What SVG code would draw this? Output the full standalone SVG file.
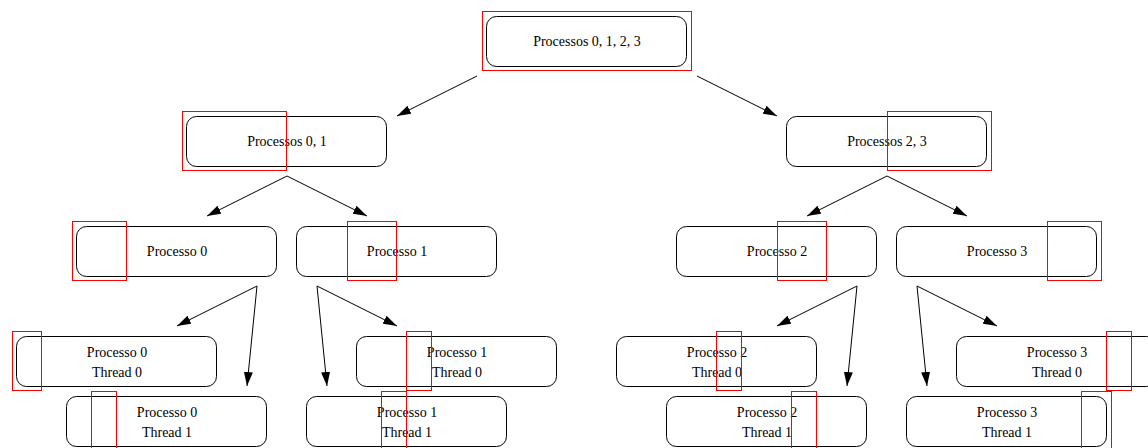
<svg xmlns="http://www.w3.org/2000/svg" width="1148" height="448" viewBox="0 0 1148 448">
  <defs>
    <marker id="arrow" markerUnits="userSpaceOnUse" markerWidth="14" markerHeight="9" refX="14" refY="4.5" orient="auto">
      <path d="M0,0 L14,4.5 L0,9 z" fill="#000"/>
    </marker>
  </defs>
  <style>
    .box { fill: #fff; stroke: #000; stroke-width: 1; }
    .mark { fill: none; stroke: #f00; stroke-width: 1; }
    .lbl { font-family: "Liberation Serif", "Times New Roman", serif; font-size: 14px; fill: #000; text-anchor: middle; }
    .edge { stroke: #000; stroke-width: 1; fill: none; marker-end: url(#arrow); }
  </style>
  <rect width="1148" height="448" fill="#fff"/>

  <!-- connectors -->
  <g id="connectors">
    <line class="edge" x1="477" y1="76" x2="397" y2="116"/>
    <line class="edge" x1="697" y1="76" x2="777" y2="116"/>
    <line class="edge" x1="287" y1="176" x2="207" y2="216"/>
    <line class="edge" x1="287" y1="176" x2="367" y2="216"/>
    <line class="edge" x1="887" y1="176" x2="807" y2="216"/>
    <line class="edge" x1="887" y1="176" x2="967" y2="216"/>
    <line class="edge" x1="257" y1="286" x2="177" y2="326"/>
    <line class="edge" x1="257" y1="286" x2="247" y2="386"/>
    <line class="edge" x1="317" y1="286" x2="397" y2="326"/>
    <line class="edge" x1="317" y1="286" x2="327" y2="386"/>
    <line class="edge" x1="857" y1="286" x2="777" y2="326"/>
    <line class="edge" x1="857" y1="286" x2="847" y2="386"/>
    <line class="edge" x1="917" y1="286" x2="997" y2="326"/>
    <line class="edge" x1="917" y1="286" x2="927" y2="386"/>
  </g>

  <!-- level 0 -->
  <g id="p0123">
    <rect class="box" x="486.5" y="16.5" width="200" height="50" rx="10"/>
    <text class="lbl" x="587" y="46">Processos 0, 1, 2, 3</text>
    <rect class="mark" x="482.5" y="11.5" width="209" height="59"/>
  </g>

  <!-- level 1 -->
  <g id="p01">
    <rect class="box" x="186.5" y="116.5" width="200" height="50" rx="10"/>
    <text class="lbl" x="287" y="146">Processos 0, 1</text>
    <rect class="mark" x="182.5" y="111.5" width="104" height="59"/>
  </g>
  <g id="p23">
    <rect class="box" x="786.5" y="116.5" width="200" height="50" rx="10"/>
    <text class="lbl" x="887" y="146">Processos 2, 3</text>
    <rect class="mark" x="887.5" y="111.5" width="104" height="59"/>
  </g>

  <!-- level 2 -->
  <g id="p0">
    <rect class="box" x="76.5" y="226.5" width="200" height="50" rx="10"/>
    <text class="lbl" x="177" y="256">Processo 0</text>
    <rect class="mark" x="72.5" y="221.5" width="54" height="59"/>
  </g>
  <g id="p1">
    <rect class="box" x="296.5" y="226.5" width="200" height="50" rx="10"/>
    <text class="lbl" x="397" y="256">Processo 1</text>
    <rect class="mark" x="347.5" y="221.5" width="49" height="59"/>
  </g>
  <g id="p2">
    <rect class="box" x="676.5" y="226.5" width="200" height="50" rx="10"/>
    <text class="lbl" x="777" y="256">Processo 2</text>
    <rect class="mark" x="777.5" y="221.5" width="49" height="59"/>
  </g>
  <g id="p3">
    <rect class="box" x="896.5" y="226.5" width="200" height="50" rx="10"/>
    <text class="lbl" x="997" y="256">Processo 3</text>
    <rect class="mark" x="1047.5" y="221.5" width="54" height="59"/>
  </g>

  <!-- level 3: threads -->
  <g id="p0t0">
    <rect class="box" x="16.5" y="336.5" width="200" height="50" rx="10"/>
    <text class="lbl" x="117" y="356.5">Processo 0</text>
    <text class="lbl" x="117" y="376.5">Thread 0</text>
    <rect class="mark" x="12.5" y="331.5" width="29" height="59"/>
  </g>
  <g id="p0t1">
    <rect class="box" x="66.5" y="396.5" width="200" height="50" rx="10"/>
    <text class="lbl" x="167" y="416.5">Processo 0</text>
    <text class="lbl" x="167" y="436.5">Thread 1</text>
    <rect class="mark" x="91.5" y="391.5" width="25" height="59"/>
  </g>
  <g id="p1t0">
    <rect class="box" x="356.5" y="336.5" width="200" height="50" rx="10"/>
    <text class="lbl" x="457" y="356.5">Processo 1</text>
    <text class="lbl" x="457" y="376.5">Thread 0</text>
    <rect class="mark" x="406.5" y="331.5" width="25" height="59"/>
  </g>
  <g id="p1t1">
    <rect class="box" x="306.5" y="396.5" width="200" height="50" rx="10"/>
    <text class="lbl" x="407" y="416.5">Processo 1</text>
    <text class="lbl" x="407" y="436.5">Thread 1</text>
    <rect class="mark" x="381.5" y="391.5" width="25" height="59"/>
  </g>
  <g id="p2t0">
    <rect class="box" x="616.5" y="336.5" width="200" height="50" rx="10"/>
    <text class="lbl" x="717" y="356.5">Processo 2</text>
    <text class="lbl" x="717" y="376.5">Thread 0</text>
    <rect class="mark" x="716.5" y="331.5" width="25" height="59"/>
  </g>
  <g id="p2t1">
    <rect class="box" x="666.5" y="396.5" width="200" height="50" rx="10"/>
    <text class="lbl" x="767" y="416.5">Processo 2</text>
    <text class="lbl" x="767" y="436.5">Thread 1</text>
    <rect class="mark" x="791.5" y="391.5" width="25" height="59"/>
  </g>
  <g id="p3t0">
    <rect class="box" x="956.5" y="336.5" width="200" height="50" rx="10"/>
    <text class="lbl" x="1057" y="356.5">Processo 3</text>
    <text class="lbl" x="1057" y="376.5">Thread 0</text>
    <rect class="mark" x="1106.5" y="331.5" width="25" height="59"/>
  </g>
  <g id="p3t1">
    <rect class="box" x="906.5" y="396.5" width="200" height="50" rx="10"/>
    <text class="lbl" x="1007" y="416.5">Processo 3</text>
    <text class="lbl" x="1007" y="436.5">Thread 1</text>
    <rect class="mark" x="1081.5" y="391.5" width="30" height="59"/>
  </g>
</svg>
